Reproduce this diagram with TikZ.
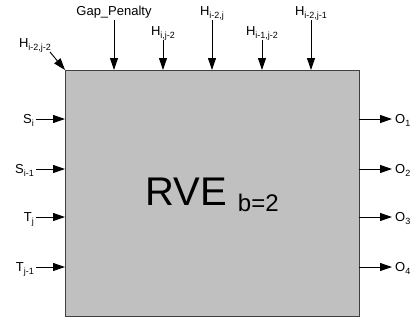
\documentclass[tikz,border=0pt]{standalone}
\usepackage{fontspec}
\setmainfont{Liberation Sans}
\usetikzlibrary{arrows.meta}
\newcommand\sbs[1]{\raisebox{-3pt}{\fontsize{9}{10}\selectfont #1}}
\begin{document}
\begin{tikzpicture}[x=1pt,y=-1pt,
  lbl/.style={inner sep=0pt,font=\fontsize{13}{15}\selectfont},
  arr/.style={line width=0.9pt,-{Triangle[length=12pt,width=8pt]}},
  pt/.style={inner sep=0pt,minimum size=0pt}]
\useasboundingbox (0,0) rectangle (415,322);
% box
\node[draw={rgb,255:red,64;green,64;blue,64},line width=1pt,fill={rgb,255:red,192;green,192;blue,192},
  minimum width=294pt,minimum height=246pt,inner sep=0pt,anchor=north west] (box) at (65,70) {};
\node[inner sep=0pt,anchor=base] (rve) at (212,205) {\fontsize{40}{44}\selectfont RVE \raisebox{-6pt}{\fontsize{24}{26}\selectfont b=2}};
% top inputs
\node[lbl,anchor=base] (gp) at (114,15) {Gap\_Penalty};
\coordinate (gps) at (114,20); \coordinate (gpe) at (114,70);
\draw[arr] (gps) -- (gpe);
\node[lbl,anchor=base] (h1) at (163,35) {H\sbs{i,j-2}};
\coordinate (h1s) at (163,40); \coordinate (h1e) at (163,70);
\draw[arr] (h1s) -- (h1e);
\node[lbl,anchor=base] (h2) at (212,15) {H\sbs{i-2,j}};
\coordinate (h2s) at (212,20); \coordinate (h2e) at (212,70);
\draw[arr] (h2s) -- (h2e);
\node[lbl,anchor=base] (h3) at (262,35) {H\sbs{i-1,j-2}};
\coordinate (h3s) at (262,40); \coordinate (h3e) at (262,70);
\draw[arr] (h3s) -- (h3e);
\node[lbl,anchor=base] (h4) at (311,15) {H\sbs{i-2,j-1}};
\coordinate (h4s) at (311,20); \coordinate (h4e) at (311,70);
\draw[arr] (h4s) -- (h4e);
\node[lbl,anchor=base] (h0) at (35,47) {H\sbs{i-2,j-2}};
\coordinate (h0s) at (50,52);
\draw[arr] (h0s) -- (box.north west);
% left inputs
\foreach \n/\t/\y in {si/S\sbs{i}/119, si1/S\sbs{i-1}/169, tj/T\sbs{j}/217, tj1/T\sbs{j-1}/267}{
  \node[lbl,anchor=base east] (\n) at (34,\y+4) {\t};
  \coordinate (\n s) at (36,\y); \coordinate (\n e) at (65,\y);
  \draw[arr] (\n s) -- (\n e);
}
% right outputs
\foreach \n/\t/\y in {o1/O\sbs{1}/119, o2/O\sbs{2}/169, o3/O\sbs{3}/217, o4/O\sbs{4}/267}{
  \coordinate (\n s) at (359,\y); \coordinate (\n e) at (392,\y);
  \node[lbl,anchor=base west] (\n) at (395,\y+4) {\t};
  \draw[arr] (\n s) -- (\n e);
}
\end{tikzpicture}
\end{document}
